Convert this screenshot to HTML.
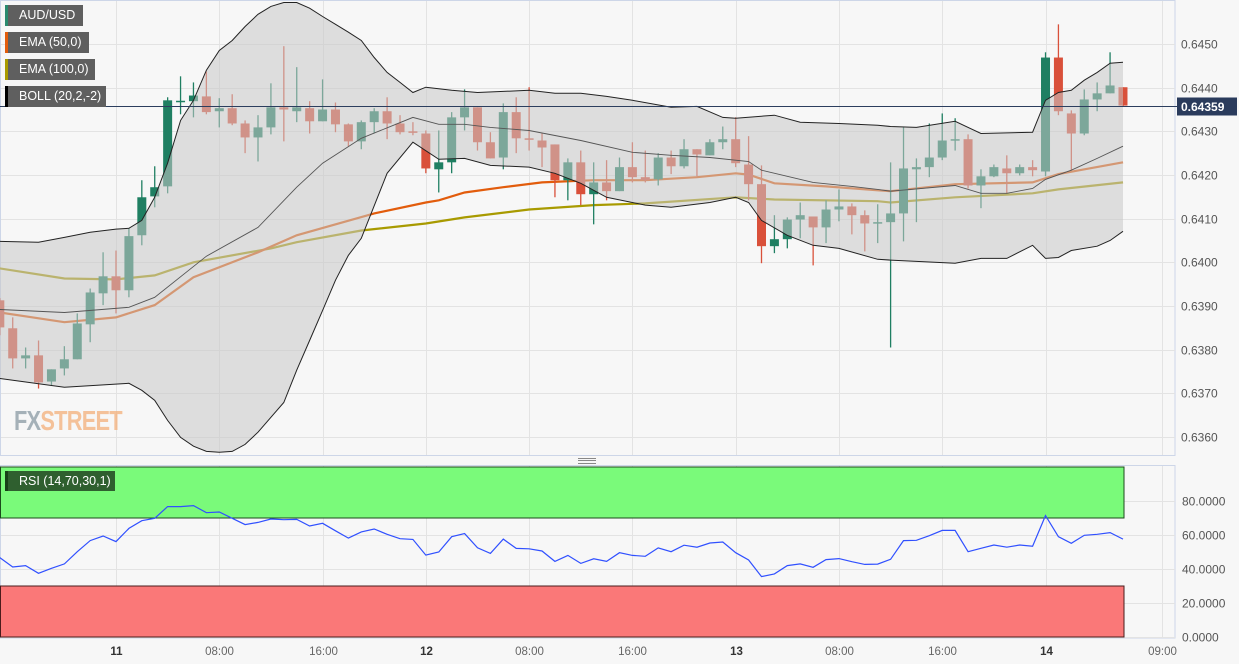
<!DOCTYPE html>
<html><head><meta charset="utf-8"><style>
html,body{margin:0;padding:0;background:#f7f7f7;width:1239px;height:664px;overflow:hidden;font-family:"Liberation Sans",sans-serif}
.lg{position:absolute;left:5px;height:21px;background:#5f5f5f;color:#fff;font-size:12.5px;line-height:21px;padding-left:11px;box-sizing:border-box;border-left:3px solid #000}
</style></head><body>
<svg id="chart" width="1239" height="664" style="position:absolute;left:0;top:0" xmlns="http://www.w3.org/2000/svg"></svg>
<div class="lg" style="top:5px;width:78px;border-left-color:#2a8a6e">AUD/USD</div>
<div class="lg" style="top:32px;width:84px;border-left-color:#e25c0c">EMA (50,0)</div>
<div class="lg" style="top:59px;width:90px;border-left-color:#a89a00">EMA (100,0)</div>
<div class="lg" style="top:86px;width:101px;border-left-color:#000">BOLL (20,2,-2)</div>
<div class="lg" style="top:471px;width:110px;background:#2f5f2f;border-left-color:#174017;height:20px;line-height:20px">RSI (14,70,30,1)</div>
<div style="position:absolute;left:14px;top:405px;font-size:28px;font-weight:bold;letter-spacing:-1px;opacity:.75;transform:scaleX(0.78);transform-origin:left top;white-space:nowrap"><span style="color:#8a9aa4">FX</span><span style="color:#f4b07a">STREET</span></div>
<div style="position:absolute;left:578px;top:458px;width:18px;height:6px;border-top:1px solid #888;border-bottom:1px solid #888;box-sizing:border-box"><div style="margin-top:1px;height:1px;background:#888"></div></div>
<script>
const opens=[0.63913,0.63849,0.63780,0.63787,0.63727,0.63757,0.63778,0.63858,0.63929,0.63968,0.63936,0.64062,0.64151,0.64174,0.64369,0.64369,0.64380,0.64346,0.64353,0.64318,0.64286,0.64309,0.64355,0.64346,0.64353,0.64323,0.64350,0.64316,0.64277,0.64321,0.64346,0.64318,0.64300,0.64295,0.64213,0.64229,0.64332,0.64355,0.64275,0.64240,0.64344,0.64284,0.64279,0.64270,0.64188,0.64229,0.64156,0.64183,0.64163,0.64218,0.64195,0.64190,0.64240,0.64220,0.64259,0.64245,0.64275,0.64282,0.64224,0.64179,0.64037,0.64053,0.64098,0.64105,0.64080,0.64121,0.64128,0.64108,0.64089,0.64092,0.64112,0.64213,0.64218,0.64240,0.64279,0.64282,0.64176,0.64197,0.64215,0.64204,0.64218,0.64208,0.64469,0.64341,0.64295,0.64373,0.64387,0.64401];
const highs=[0.63918,0.63874,0.63805,0.63821,0.63755,0.63808,0.63883,0.63940,0.64023,0.64027,0.64078,0.64188,0.64220,0.64378,0.64426,0.64412,0.64437,0.64376,0.64385,0.64325,0.64337,0.64410,0.64495,0.64447,0.64369,0.64419,0.64366,0.64318,0.64325,0.64353,0.64378,0.64337,0.64321,0.64302,0.64302,0.64344,0.64396,0.64355,0.64298,0.64364,0.64378,0.64401,0.64295,0.64270,0.64238,0.64256,0.64229,0.64234,0.64240,0.64275,0.64256,0.64250,0.64256,0.64282,0.64259,0.64282,0.64311,0.64332,0.64289,0.64222,0.64108,0.64103,0.64137,0.64105,0.64142,0.64167,0.64135,0.64119,0.64133,0.64229,0.64309,0.64238,0.64318,0.64341,0.64330,0.64293,0.64213,0.64224,0.64245,0.64224,0.64234,0.64481,0.64545,0.64348,0.64396,0.64412,0.64481,0.64401];
const lows=[0.63833,0.63757,0.63757,0.63711,0.63718,0.63741,0.63778,0.63817,0.63902,0.63883,0.63920,0.64039,0.64126,0.64158,0.64339,0.64332,0.64339,0.64309,0.64314,0.64250,0.64231,0.64293,0.64277,0.64321,0.64295,0.64323,0.64298,0.64266,0.64259,0.64295,0.64282,0.64293,0.64291,0.64204,0.64160,0.64204,0.64302,0.64256,0.64238,0.64213,0.64250,0.64256,0.64218,0.64149,0.64142,0.64131,0.64087,0.64142,0.64163,0.64183,0.64183,0.64176,0.64202,0.64215,0.64197,0.64245,0.64259,0.64218,0.64142,0.63998,0.64021,0.64032,0.64055,0.63993,0.64044,0.64094,0.64064,0.64025,0.64044,0.63805,0.64048,0.64092,0.64195,0.64234,0.64256,0.64169,0.64124,0.64195,0.64158,0.64199,0.64197,0.64197,0.64337,0.64211,0.64291,0.64346,0.64387,0.64357];
const closes=[0.63851,0.63780,0.63787,0.63725,0.63755,0.63778,0.63860,0.63931,0.63968,0.63936,0.64060,0.64149,0.64172,0.64371,0.64370,0.64382,0.64344,0.64353,0.64318,0.64286,0.64309,0.64355,0.64350,0.64355,0.64323,0.64350,0.64316,0.64277,0.64321,0.64346,0.64318,0.64298,0.64298,0.64215,0.64229,0.64332,0.64355,0.64275,0.64238,0.64344,0.64284,0.64282,0.64263,0.64188,0.64229,0.64156,0.64183,0.64163,0.64218,0.64195,0.64188,0.64240,0.64220,0.64259,0.64247,0.64275,0.64282,0.64227,0.64179,0.64037,0.64053,0.64098,0.64108,0.64080,0.64121,0.64128,0.64108,0.64089,0.64092,0.64112,0.64215,0.64218,0.64240,0.64279,0.64282,0.64176,0.64197,0.64218,0.64204,0.64218,0.64211,0.64469,0.64346,0.64295,0.64373,0.64387,0.64405,0.64359];
const upIdx=[0,3,5,7,9,10,11,12,13,14,15,16,17,18,19,20,21,22,23,24,25,26,27,28,29,30,31,32,33,35,37,41,43,45,47,49,52,54,56,57,60,62,65,68,69,71,74,76,80,81,82,83,84,85,86,87];
const upVal=[0.64048,0.64046,0.64057,0.64069,0.64076,0.64078,0.64096,0.64149,0.64227,0.64325,0.64371,0.64440,0.64485,0.64508,0.64540,0.64568,0.64586,0.64595,0.64595,0.64582,0.64563,0.64545,0.64527,0.64508,0.64469,0.64435,0.64412,0.64389,0.64401,0.64394,0.64389,0.64394,0.64387,0.64387,0.64380,0.64371,0.64355,0.64357,0.64332,0.64330,0.64337,0.64321,0.64318,0.64314,0.64311,0.64309,0.64323,0.64295,0.64298,0.64371,0.64389,0.64394,0.64417,0.64435,0.64456,0.64458];
const loIdx=[0,5,10,11,12,13,14,15,16,17,18,19,20,21,22,23,24,25,26,27,28,30,32,34,36,38,41,43,45,47,50,52,55,57,58,59,61,63,65,68,69,74,76,78,80,81,82,83,85,86,87];
const loVal=[0.63734,0.63714,0.63723,0.63707,0.63684,0.63638,0.63599,0.63579,0.63567,0.63565,0.63567,0.63583,0.63611,0.63645,0.63679,0.63753,0.63821,0.63890,0.63959,0.64016,0.64055,0.64204,0.64275,0.64236,0.64238,0.64222,0.64218,0.64204,0.64181,0.64149,0.64131,0.64126,0.64137,0.64149,0.64137,0.64096,0.64062,0.64039,0.64032,0.64007,0.64005,0.63998,0.64009,0.64009,0.64039,0.64009,0.64011,0.64027,0.64037,0.64050,0.64071];
const midIdx=[0,5,10,12,16,20,23,25,28,32,34,36,38,41,45,49,52,55,58,59,63,66,68,69,74,76,78,80,81,83,85,87];
const midVal=[0.63892,0.63885,0.63897,0.63920,0.64014,0.64080,0.64172,0.64227,0.64284,0.64332,0.64316,0.64316,0.64309,0.64302,0.64279,0.64252,0.64245,0.64240,0.64231,0.64211,0.64183,0.64174,0.64167,0.64163,0.64176,0.64158,0.64158,0.64169,0.64190,0.64211,0.64238,0.64266];
const ema50Idx=[0,5,9,12,15,20,23,29,33,34,36,39,42,46,50,54,57,58,60,64,68,69,74,80,82,87];
const ema50Val=[0.63885,0.63863,0.63874,0.63902,0.63966,0.64023,0.64062,0.64112,0.64137,0.64142,0.64160,0.64172,0.64183,0.64188,0.64188,0.64195,0.64204,0.64201,0.64181,0.64174,0.64165,0.64163,0.64179,0.64183,0.64202,0.64229];
const ema100Idx=[0,5,9,12,15,21,23,28,33,36,41,46,50,57,60,68,69,74,80,82,87];
const ema100Val=[0.63986,0.63963,0.63961,0.63970,0.64000,0.64032,0.64046,0.64073,0.64089,0.64103,0.64121,0.64131,0.64135,0.64149,0.64144,0.64140,0.64137,0.64149,0.64158,0.64167,0.64183];
const rsi=[46.7,41.2,42.0,37.5,40.4,43.0,50.2,56.7,59.4,56.1,63.9,68.4,69.8,76.7,76.7,77.3,73.1,73.5,69.8,66.1,67.4,69.4,69.0,69.2,65.3,66.9,62.5,58.2,61.8,63.5,60.4,57.8,57.4,48.2,50.0,59.0,60.8,52.5,49.2,57.6,52.1,51.9,50.6,44.5,48.0,43.3,46.0,44.5,49.6,48.0,47.5,52.4,50.2,54.0,52.8,55.3,55.9,49.6,45.3,35.5,37.1,42.0,43.0,41.0,45.5,46.1,44.3,42.7,42.9,45.7,56.7,56.9,59.6,62.7,62.7,50.2,52.2,54.1,52.8,54.1,53.4,71.4,59.0,55.1,59.8,60.4,61.4,57.6];
const priceTicks=[0.6360,0.6370,0.6380,0.6390,0.6400,0.6410,0.6420,0.6430,0.6440,0.6450];
const rsiTicks=[0,20,40,60,80];
const timeTickIdx=[9,17,25,33,41,49,57,65,73,81,90];
const timeTickLabels=["11","08:00","16:00","12","08:00","16:00","13","08:00","16:00","14","09:00"];
const lastPrice=0.64359;

const NS="http://www.w3.org/2000/svg";
const svg=document.getElementById('chart');
function el(t,a,p){const e=document.createElementNS(NS,t);for(const k in a)e.setAttribute(k,a[k]);(p||svg).appendChild(e);return e;}
const xI=i=>116+(i-9)*12.91;
const yP=p=>437-(p-0.636)*43667;
const yR=v=>637-v*1.7;

let r=el('rect',{x:0.5,y:0.5,width:1174.5,height:455,fill:'#f7f7f7',stroke:'#cdd6e8'});


r=el('rect',{x:0.5,y:465.5,width:1174.5,height:172.5,fill:'#f7f7f7',stroke:'#cdd6e8'});



priceTicks.forEach(p=>{
  const y=Math.round(yP(p))+0.5;
  const g=el('line',{x1:1,x2:1175,y1:y,y2:y,stroke:'#e3e3e3'});
  
  
  const t=el('text',{x:1181,y:y+4,'font-size':12,fill:'#555','font-family':'Liberation Sans, sans-serif'});
  t.textContent=p.toFixed(4);
  
  
});
rsiTicks.forEach(v=>{
  const y=Math.round(yR(v))+0.5;
  const g=el('line',{x1:1,x2:1175,y1:y,y2:y,stroke:'#e3e3e3'});
  
  
  const t=el('text',{x:1182,y:y+4,'font-size':12,fill:'#555','font-family':'Liberation Sans, sans-serif'});
  t.textContent=v.toFixed(4);
  
  
});
timeTickIdx.forEach((i,k)=>{
  const x=Math.round(xI(i))+0.5;
  const g=el('line',{x1:x,x2:x,y1:1,y2:455,stroke:'#e3e3e3'});
  
  
  const g2=el('line',{x1:x,x2:x,y1:466,y2:637,stroke:'#e3e3e3'});
  
  
  const lab=timeTickLabels[k];
  const bold=/^\d\d$/.test(lab);
  const t=el('text',{x:x,y:655,'font-size':11.5,'text-anchor':'middle',fill:bold?'#333':'#666','font-weight':bold?'bold':'normal','font-family':'Liberation Sans, sans-serif'});
  t.textContent=lab;
  
  
});

function path(idx,val){return idx.map((i,k)=>(k?'L':'M')+xI(i).toFixed(1)+' '+yP(val[k]).toFixed(1)).join(' ');}

let e=el('path',{d:path(ema100Idx,ema100Val),fill:'none',stroke:'#a89a00','stroke-width':2.2});


e=el('path',{d:path(ema50Idx,ema50Val),fill:'none',stroke:'#e25c0c','stroke-width':2.2});



for(let i=0;i<opens.length;i++){
  const up=closes[i]>=opens[i];
  const col=up?'#1f7f62':'#d9503a';
  const x=xI(i);
  const w=el('line',{x1:x,x2:x,y1:yP(highs[i]),y2:yP(lows[i]),stroke:col,'stroke-width':1.3});
  
  
  const yt=yP(Math.max(opens[i],closes[i])), yb=yP(Math.min(opens[i],closes[i]));
  const b=el('rect',{x:x-4.5,y:yt,width:9,height:Math.max(yb-yt,1.5),fill:col});
  
  
}

const bandD=path(upIdx,upVal)+' '+loIdx.slice().reverse().map((i,k)=>'L'+xI(i).toFixed(1)+' '+yP(loVal[loVal.length-1-k]).toFixed(1)).join(' ')+' Z';
e=el('path',{d:bandD,fill:'rgba(200,200,200,0.55)',stroke:'none'});


e=el('path',{d:path(upIdx,upVal),fill:'none',stroke:'#222','stroke-width':1});


e=el('path',{d:path(loIdx,loVal),fill:'none',stroke:'#222','stroke-width':1});


e=el('path',{d:path(midIdx,midVal),fill:'none',stroke:'#555','stroke-width':0.9});



const ly=Math.round(yP(lastPrice))+0.5;
e=el('line',{x1:0,x2:1177,y1:ly,y2:ly,stroke:'#2c3e5e','stroke-width':1});


e=el('rect',{x:1177,y:ly-9,width:60,height:18,fill:'#2a3b5c'});


const lt=el('text',{x:1181,y:ly+4.5,'font-size':12,'font-weight':'bold',fill:'#fff','font-family':'Liberation Sans, sans-serif'});
lt.textContent=lastPrice.toFixed(5);



e=el('rect',{x:0.5,y:yR(100),width:1123.5,height:yR(70)-yR(100),fill:'#7afa7a',stroke:'#1c4a1c'});


e=el('rect',{x:0.5,y:yR(30),width:1123.5,height:yR(0)-yR(30),fill:'#fa7878',stroke:'#4a1c1c'});


e=el('path',{d:rsi.map((v,i)=>(i?'L':'M')+xI(i).toFixed(1)+' '+yR(v).toFixed(1)).join(' '),fill:'none',stroke:'#3050ff','stroke-width':1.2});


</script>
</body></html>
